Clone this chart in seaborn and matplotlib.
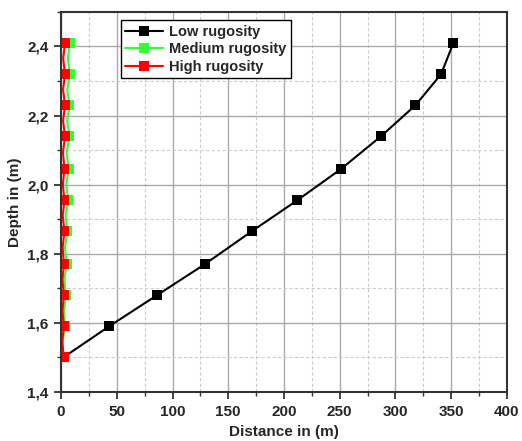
import matplotlib
matplotlib.use("Agg")
import matplotlib.pyplot as plt
import matplotlib.ticker as mticker
import numpy as np
import pandas as pd
import seaborn as sns

# depth levels (markers) and midpoints between them
depth = [1.50, 1.545, 1.59, 1.635, 1.68, 1.725, 1.77, 1.818, 1.865, 1.91,
         1.955, 2.0, 2.045, 2.093, 2.14, 2.185, 2.23, 2.275, 2.32, 2.365, 2.41]
depth_low = [1.50, 1.59, 1.68, 1.77, 1.865, 1.955, 2.045, 2.14, 2.23, 2.32, 2.41]
dist_low = [2, 43, 86, 129, 171, 212, 251, 287, 318, 341, 352]
dist_medium = [2, 1.5, 3.5, 2.5, 4.5, 3, 5, 3.5, 5.5, 4, 6.5, 4.5, 7, 5,
               7.5, 5.5, 7.5, 5.5, 8, 6, 8]
dist_high = [2.5, 1, 2.5, 1.2, 2.5, 1.3, 2.5, 1.4, 3, 1.5, 3, 1.6, 3, 1.7,
             3.5, 1.8, 3.5, 1.8, 3.5, 1.9, 3.5]

sns.set_style("ticks")
plt.rcParams["font.family"] = ["Liberation Sans", "DejaVu Sans"]

fig, ax = plt.subplots(figsize=(5.22, 4.41), dpi=100)
fig.subplots_adjust(left=0.117, right=0.971, bottom=0.111, top=0.973)

ax.grid(True, which="major", color="#aaaaaa", linewidth=1.0, linestyle="-")
ax.grid(True, which="minor", color="#cccccc", linewidth=0.8, linestyle=(0, (3, 2)))
ax.set_axisbelow(True)

df_low = pd.DataFrame({"x": dist_low, "y": depth_low})
df_med = pd.DataFrame({"x": dist_medium, "y": depth})
df_high = pd.DataFrame({"x": dist_high, "y": depth})

sns.lineplot(data=df_low, x="x", y="y", sort=False, estimator=None, ax=ax,
             color="black", marker="s", markersize=6.5, markeredgewidth=0,
             linewidth=1.5, label="Low rugosity")
sns.lineplot(data=df_med, x="x", y="y", sort=False, estimator=None, ax=ax,
             color="#33ff33", marker="s", markersize=6.5, markeredgewidth=0,
             linewidth=1.5, markevery=2, label="Medium rugosity")
sns.lineplot(data=df_high, x="x", y="y", sort=False, estimator=None, ax=ax,
             color="#ff0000", marker="s", markersize=6.5, markeredgewidth=0,
             linewidth=1.5, markevery=2, label="High rugosity")

ax.set_xlim(0, 400)
ax.set_ylim(1.4, 2.5)
ax.xaxis.set_major_locator(mticker.MultipleLocator(50))
ax.xaxis.set_minor_locator(mticker.MultipleLocator(25))
ax.yaxis.set_major_locator(mticker.MultipleLocator(0.2))
ax.yaxis.set_minor_locator(mticker.MultipleLocator(0.1))
ax.yaxis.set_major_formatter(
    mticker.FuncFormatter(lambda v, p: f"{v:.1f}".replace(".", ",")))

ax.tick_params(which="major", direction="out", length=5, width=1.3,
               color="#333333", labelsize=11, pad=4)
ax.tick_params(which="minor", direction="out", length=3, width=1.0,
               color="#333333")
for lab in ax.get_xticklabels() + ax.get_yticklabels():
    lab.set_fontweight("bold")
for sp in ax.spines.values():
    sp.set_linewidth(1.5)
    sp.set_color("#333333")

ax.set_xlabel("Distance in (m)", fontsize=11, fontweight="bold", labelpad=5)
ax.set_ylabel("Depth in (m)", fontsize=11, fontweight="bold", labelpad=4)

leg = ax.legend(loc="upper left", bbox_to_anchor=(0.134, 0.978),
                prop={"weight": "bold", "size": 10.5}, frameon=True,
                fancybox=False, edgecolor="black", borderpad=0.3,
                labelspacing=0.25, handlelength=2.6, handletextpad=0.4,
                borderaxespad=0)
leg.get_frame().set_linewidth(1.0)
leg.get_frame().set_alpha(1)

fig.savefig("out.png", dpi=100)
